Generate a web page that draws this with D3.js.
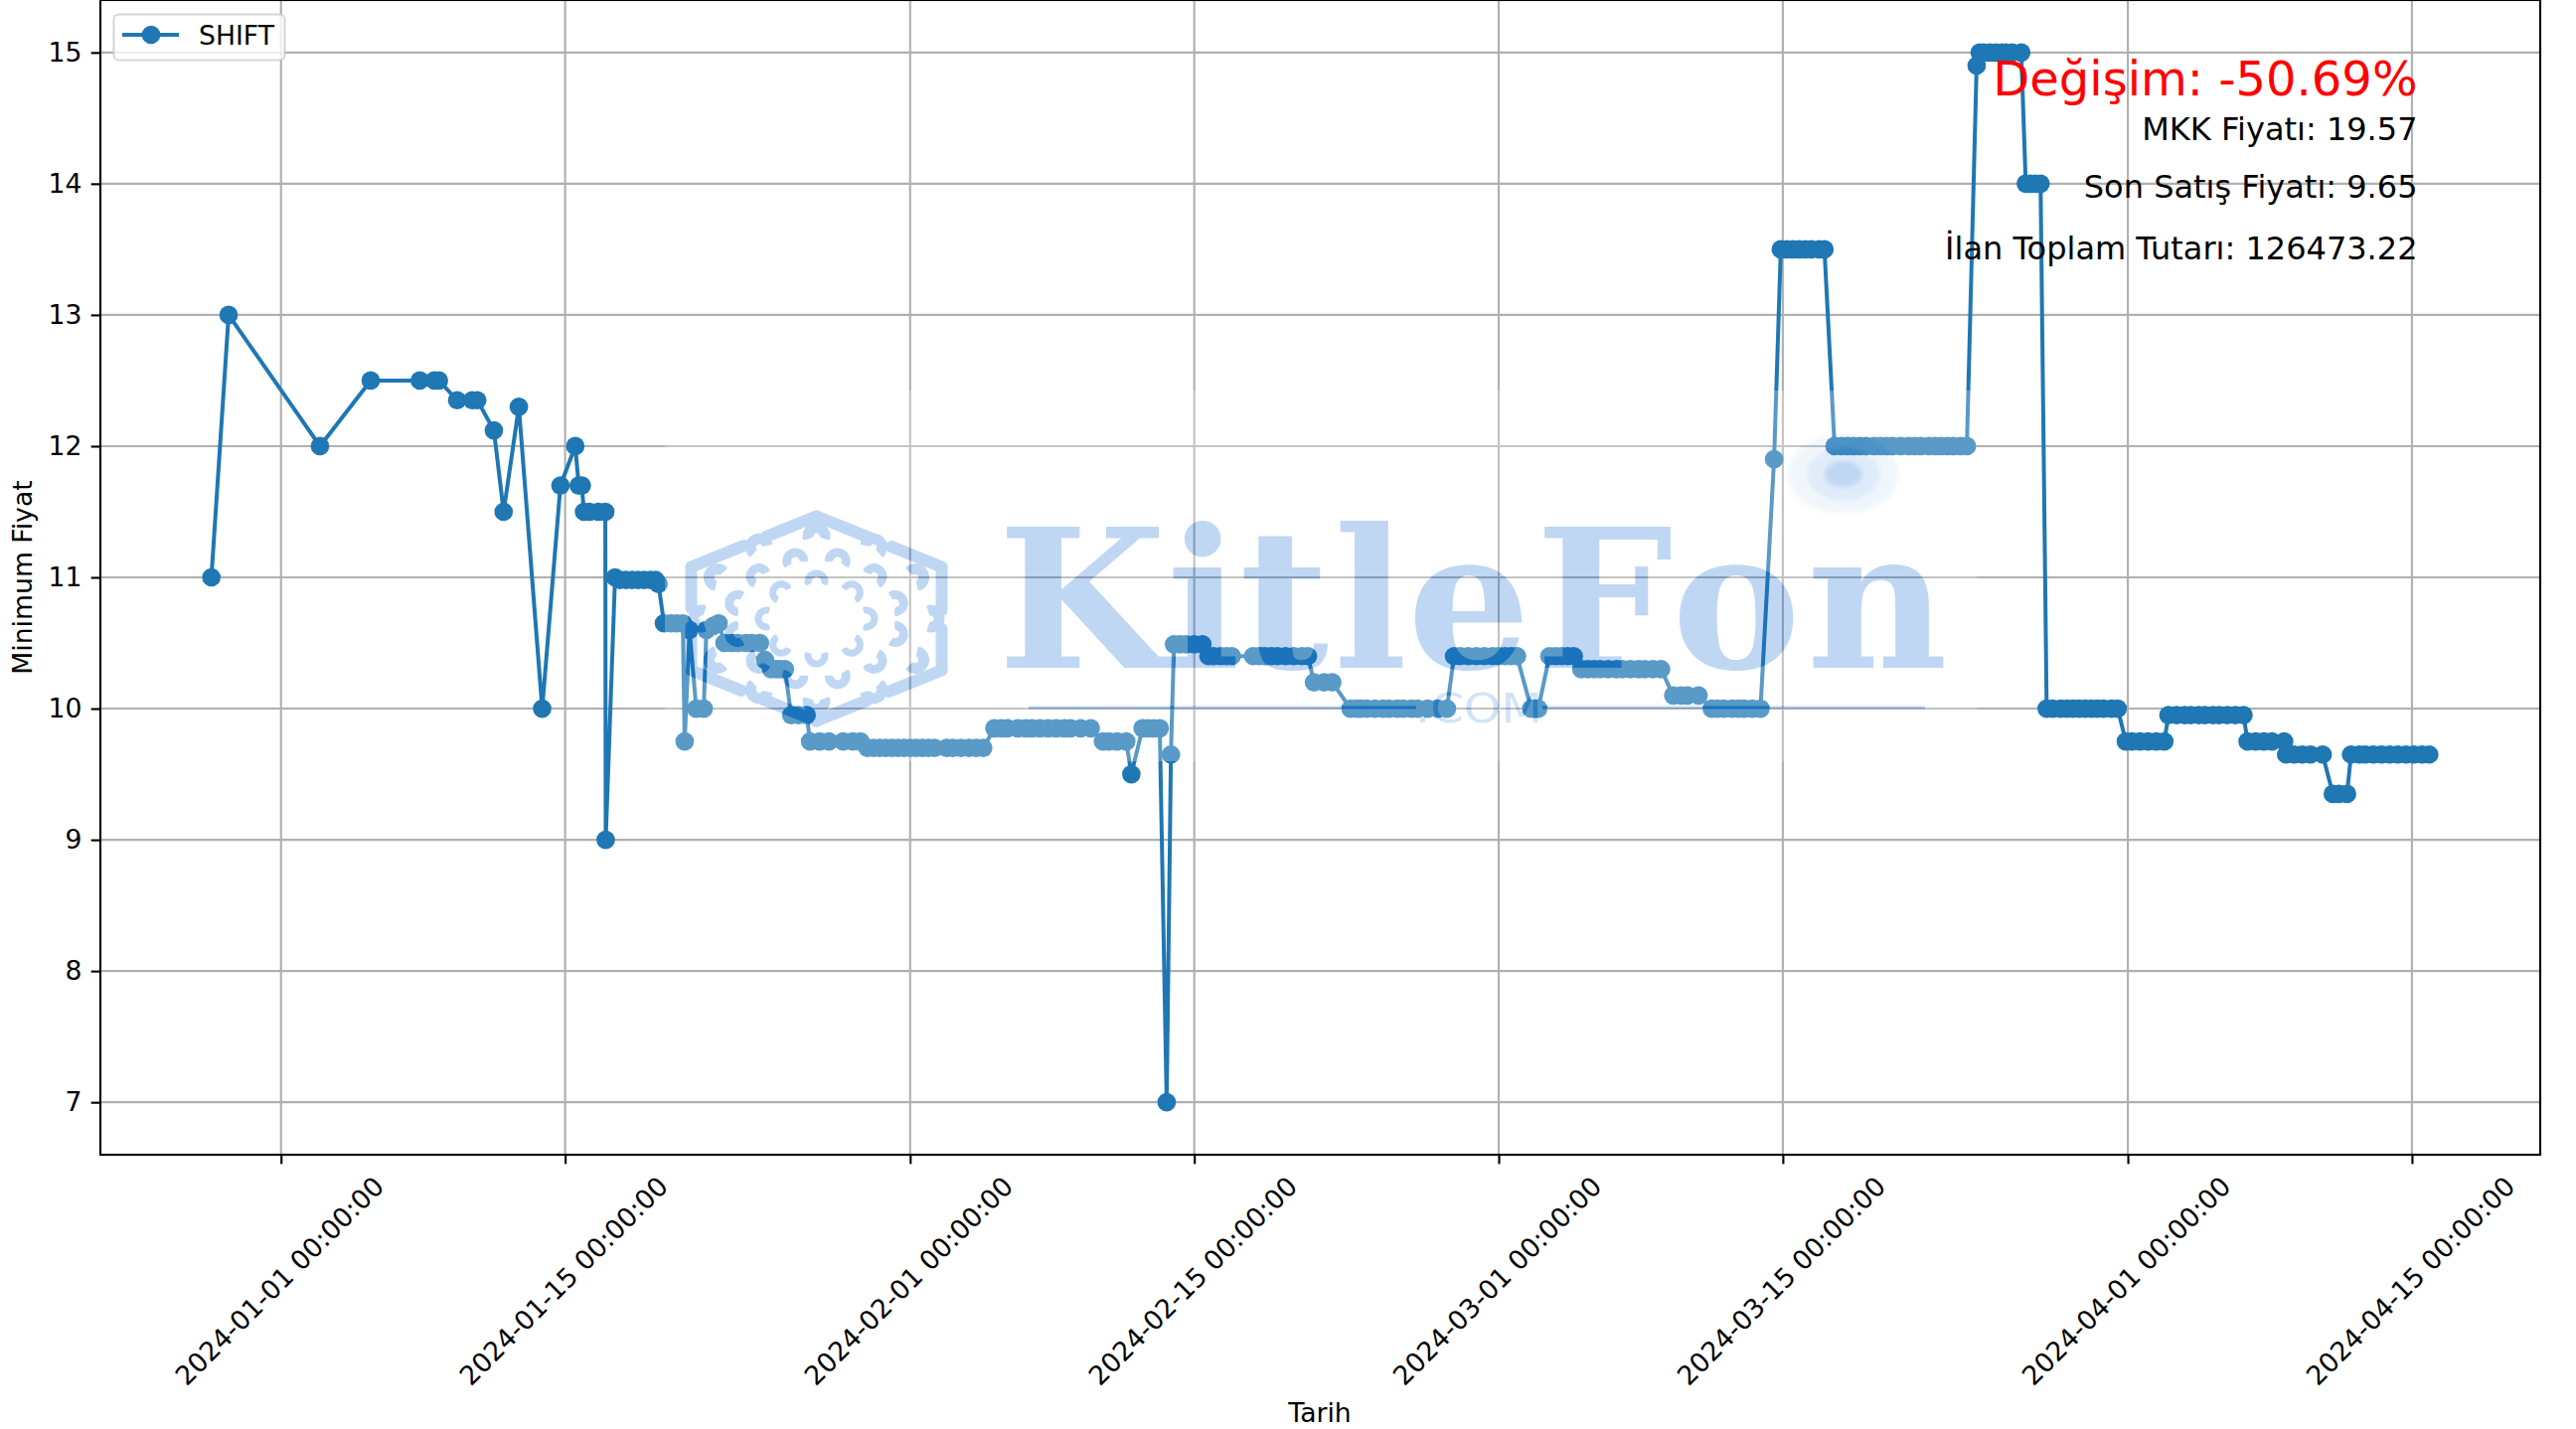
<!DOCTYPE html>
<html lang="tr">
<head>
    <meta charset="UTF-8">
    <title>SHIFT Minimum Fiyat</title>
    <script src="https://d3js.org/d3.v7.min.js"></script>
    <style>
        body { margin: 0; background: #fff; }
        svg { display: block; }
        text { font-family: "DejaVu Sans", sans-serif; fill: #000; }
    </style>
</head>
<body>
    <svg id="chart" width="2592" height="1438"></svg>
    <script>
        // Okunan degerler: 2024-01-01'den itibaren gun farki ve minimum fiyat
        const days = [
            -3.43, -2.58, 1.92,
            4.42, 6.84, 7.56, 7.78,
            8.68, 9.42, 9.67,
            10.49, 10.97, 11.72, 12.87, 13.77, 14.5,
            14.67, 14.82,
            14.93, 15.2, 15.64, 15.98,
            16.0, 16.46,
            16.7, 17.0, 17.3, 17.6, 17.9, 18.2, 18.45,
            18.6,
            18.87, 19.2, 19.5, 19.8,
            19.89, 20.13, 20.46, 20.83, 20.96, 21.3, 21.56,
            21.85, 22.2, 22.5, 22.9, 23.2, 23.6,
            23.85,
            24.15, 24.4, 24.6, 24.83,
            25.14, 25.5, 25.9,
            26.07, 26.54, 27.0, 27.7, 28.17, 28.55,
            28.9, 29.2, 29.5, 29.8, 30.1, 30.4, 30.7, 31.0, 31.3, 31.6, 31.9, 32.2, 32.8, 33.1, 33.5, 33.9, 34.25, 34.6,
            35.15, 35.5, 35.8, 36.3, 36.7, 37.0, 37.4, 37.8, 38.2, 38.6, 38.9, 39.4, 39.9,
            40.5, 40.8, 41.2, 41.65,
            41.9,
            42.45, 42.7, 43, 43.3,
            43.64, 43.85,
            44, 44.3, 44.6, 45, 45.4,
            45.7, 45.95, 46.3, 46.6, 46.85, 47.9, 48.2, 48.5, 48.8, 49.1, 49.5, 49.9, 50.3, 50.6,
            50.9, 51.4, 51.8,
            52.7, 53, 53.2, 53.5, 53.9, 54.3, 54.6, 55, 55.3, 55.7, 56, 56.5, 57, 57.45,
            57.8, 58.1, 58.5, 58.9, 59.3, 59.7, 60, 60.3, 60.6, 60.9,
            61.6, 61.8, 61.95,
            62.5, 62.8, 63.1, 63.4, 63.7,
            64.07, 64.4, 64.7, 65, 65.4, 65.8, 66.1, 66.5, 66.9, 67.2, 67.6, 68,
            68.6, 69, 69.3, 69.85,
            70.5, 70.8, 71.1, 71.5, 71.8, 72.1, 72.5, 72.9,
            73.57,
            73.9, 74.2, 74.5, 74.8, 75.1, 75.4, 75.8, 76.05,
            76.55, 76.9, 77.2, 77.5, 77.8, 78.1, 78.5, 78.8, 79.1, 79.4, 79.8, 80.2, 80.5, 80.8, 81.2, 81.5, 81.8, 82.1, 82.4, 82.75, 83.07,
            83.55,
            83.7, 83.9, 84.2, 84.5, 84.8, 85, 85.3, 85.75,
            85.97, 86.2, 86.45, 86.7,
            87, 87.3, 87.7, 88, 88.3, 88.6, 88.9, 89.2, 89.5, 89.8, 90.2, 90.5,
            90.9, 91.2, 91.6, 92, 92.4, 92.8,
            93, 93.4, 93.8, 94.1, 94.5, 94.8, 95.2, 95.5, 95.9, 96.3, 96.7,
            96.9, 97.3, 97.7, 98.1, 98.7,
            98.8, 99.2, 99.6, 100, 100.6,
            101.1, 101.4, 101.8,
            102, 102.4, 102.7, 103.1, 103.5, 103.9, 104.3, 104.7, 105.1, 105.5, 105.85
        ];
        const prices = [
            11, 13, 12,
            12.5, 12.5, 12.5, 12.5,
            12.35, 12.35, 12.35,
            12.12, 11.5, 12.3, 10, 11.7, 12,
            11.7, 11.7,
            11.5, 11.5, 11.5, 11.5,
            9, 11,
            10.98, 10.98, 10.98, 10.98, 10.98, 10.98, 10.98,
            10.95,
            10.65, 10.65, 10.65, 10.65,
            9.75, 10.6, 10, 10, 10.6, 10.63, 10.65,
            10.5, 10.5, 10.5, 10.5, 10.5, 10.5,
            10.37,
            10.3, 10.3, 10.3, 10.3,
            9.95, 9.95, 9.95,
            9.75, 9.75, 9.75, 9.75, 9.75, 9.75,
            9.7, 9.7, 9.7, 9.7, 9.7, 9.7, 9.7, 9.7, 9.7, 9.7, 9.7, 9.7, 9.7, 9.7, 9.7, 9.7, 9.7, 9.7,
            9.85, 9.85, 9.85, 9.85, 9.85, 9.85, 9.85, 9.85, 9.85, 9.85, 9.85, 9.85, 9.85,
            9.75, 9.75, 9.75, 9.75,
            9.5,
            9.85, 9.85, 9.85, 9.85,
            7, 9.65,
            10.49, 10.49, 10.49, 10.49, 10.49,
            10.4, 10.4, 10.4, 10.4, 10.4, 10.4, 10.4, 10.4, 10.4, 10.4, 10.4, 10.4, 10.4, 10.4,
            10.2, 10.2, 10.2,
            10, 10, 10, 10, 10, 10, 10, 10, 10, 10, 10, 10, 10, 10,
            10.4, 10.4, 10.4, 10.4, 10.4, 10.4, 10.4, 10.4, 10.4, 10.4,
            10, 10, 10,
            10.4, 10.4, 10.4, 10.4, 10.4,
            10.3, 10.3, 10.3, 10.3, 10.3, 10.3, 10.3, 10.3, 10.3, 10.3, 10.3, 10.3,
            10.1, 10.1, 10.1, 10.1,
            10, 10, 10, 10, 10, 10, 10, 10,
            11.9,
            13.5, 13.5, 13.5, 13.5, 13.5, 13.5, 13.5, 13.5,
            12, 12, 12, 12, 12, 12, 12, 12, 12, 12, 12, 12, 12, 12, 12, 12, 12, 12, 12, 12, 12,
            14.9,
            15, 15, 15, 15, 15, 15, 15, 15,
            14, 14, 14, 14,
            10, 10, 10, 10, 10, 10, 10, 10, 10, 10, 10, 10,
            9.75, 9.75, 9.75, 9.75, 9.75, 9.75,
            9.95, 9.95, 9.95, 9.95, 9.95, 9.95, 9.95, 9.95, 9.95, 9.95, 9.95,
            9.75, 9.75, 9.75, 9.75, 9.75,
            9.65, 9.65, 9.65, 9.65, 9.65,
            9.35, 9.35, 9.35,
            9.65, 9.65, 9.65, 9.65, 9.65, 9.65, 9.65, 9.65, 9.65, 9.65, 9.65
        ];
        const xTicks = ["2024-01-01", "2024-01-15", "2024-02-01", "2024-02-15", "2024-03-01", "2024-03-15", "2024-04-01", "2024-04-15"];
        const yTicks = [7, 8, 9, 10, 11, 12, 13, 14, 15];
        const infoLines = ["MKK Fiyatı: 19.57", "Son Satış Fiyatı: 9.65", "İlan Toplam Tutarı: 126473.22"];
        const changeLabel = "Değişim: -50.69%";
        const seriesName = "SHIFT";

        const parseDate = d3.utcParse("%Y-%m-%d");
        const start = parseDate("2024-01-01");
        const toDate = d => new Date(+start + d * 864e5);
        const points = days.map((d, i) => ({ date: toDate(d), price: prices[i] }));

        const blue = "#1f77b4";
        const grid = "#b0b0b0";
        const fontSize = "26.67px";
        const margin = { left: 101, right: 2556, top: 0, bottom: 1162 };

        const svg = d3.select("#chart");

        // Olcekler
        const x = d3.scaleUtc().domain([toDate(-8.9), toDate(111.32)]).range([margin.left, margin.right]);
        const y = d3.scaleLinear().domain([6.6, 15.4]).range([margin.bottom, margin.top]);

        // Izgara
        const gridG = svg.append("g").attr("stroke", grid).attr("stroke-width", 2.13);
        gridG.selectAll("line.v").data(xTicks).enter().append("line")
            .attr("class", "v")
            .attr("x1", d => x(parseDate(d))).attr("x2", d => x(parseDate(d)))
            .attr("y1", margin.top).attr("y2", margin.bottom);
        gridG.selectAll("line.h").data(yTicks).enter().append("line")
            .attr("class", "h")
            .attr("x1", margin.left).attr("x2", margin.right)
            .attr("y1", d => y(d)).attr("y2", d => y(d));

        // Cizgi ve noktalar
        const line = d3.line().x(d => x(d.date)).y(d => y(d.price));
        svg.append("path").datum(points)
            .attr("d", line)
            .attr("fill", "none")
            .attr("stroke", blue)
            .attr("stroke-width", 4)
            .attr("stroke-linejoin", "round");
        svg.append("g").selectAll("circle").data(points).enter().append("circle")
            .attr("cx", d => x(d.date))
            .attr("cy", d => y(d.price))
            .attr("r", 9.33)
            .attr("fill", blue);

        // Filigran: grafik uzerine yari saydam resim gibi
        const defs = svg.append("defs");
        defs.append("filter").attr("id", "soft").append("feGaussianBlur").attr("stdDeviation", 2);
        const wm = svg.append("g").attr("opacity", 0.26);
        const wmBlue = "#0d69d4";
        wm.append("rect").attr("x", 669).attr("y", 393).attr("width", 1320).attr("height", 373).attr("fill", "#fff");

        const logo = wm.append("g").attr("transform", "translate(821.5,622.5)").attr("fill", wmBlue);
        const hex = [[0, -103], [126, -52], [126, 52], [0, 103], [-126, 52], [-126, -52]];
        hex.forEach((p, i) => {
            const q = hex[(i + 1) % 6];
            [[0, 0.42], [0.6, 1]].forEach(([a, b]) => {
                logo.append("line")
                    .attr("x1", p[0] + (q[0] - p[0]) * a).attr("y1", p[1] + (q[1] - p[1]) * a)
                    .attr("x2", p[0] + (q[0] - p[0]) * b).attr("y2", p[1] + (q[1] - p[1]) * b)
                    .attr("stroke", wmBlue).attr("stroke-width", 12).attr("stroke-linecap", "round");
            });
        });
        const crescent = d3.arc().startAngle(-1.9).endAngle(1.9).cornerRadius(2);
        [[50, 37, 8, 0, 5, 12], [82, 60, 12, 15, 4, 13], [115, 83, 12, 0, 3, 14]].forEach(([rx, ry, n, off, r0, r1]) => {
            d3.range(n).forEach(i => {
                const deg = off + i * 360 / n;
                const a = deg * Math.PI / 180;
                logo.append("path")
                    .attr("d", crescent({ innerRadius: r0, outerRadius: r1 }))
                    .attr("transform", `translate(${rx * Math.sin(a)},${-ry * Math.cos(a)}) rotate(${deg})`);
            });
        });

        // Harfler tek tek yerlestirildi
        wm.append("text")
            .attr("x", "1004 1174 1247 1342 1416 1545 1682 1818").attr("y", 672)
            .style("font-family", "'DejaVu Serif', serif").style("font-weight", "bold").style("font-size", "195px")
            .style("fill", wmBlue)
            .text("KitleFon");
        wm.append("text")
            .attr("x", 1424).attr("y", 727)
            .attr("textLength", 128).attr("lengthAdjust", "spacingAndGlyphs")
            .style("font-size", "40px").style("fill", wmBlue).attr("opacity", 0.7)
            .text(".COM");
        [[1035, 1425], [1552, 1937]].forEach(([a, b]) => {
            wm.append("rect").attr("x", a).attr("y", 710.5).attr("width", b - a).attr("height", 3).attr("fill", wmBlue);
        });
        [[56, 40, 0.2], [37, 27, 0.35], [19, 13, 1]].forEach(([rx, ry, o]) => {
            wm.append("ellipse").attr("cx", 1855).attr("cy", 477).attr("rx", rx).attr("ry", ry)
                .attr("fill", wmBlue).attr("opacity", o).attr("filter", "url(#soft)");
        });

        // Cerceve
        svg.append("rect")
            .attr("x", margin.left).attr("y", margin.top)
            .attr("width", margin.right - margin.left).attr("height", margin.bottom - margin.top)
            .attr("fill", "none").attr("stroke", "#000").attr("stroke-width", 2.13);

        // Eksenler
        const xAxis = svg.append("g").attr("transform", `translate(0,${margin.bottom})`)
            .call(d3.axisBottom(x)
                .tickValues(xTicks.map(parseDate))
                .tickFormat(d3.utcFormat("%Y-%m-%d %H:%M:%S"))
                .tickSize(9.33).tickSizeOuter(0));
        xAxis.select(".domain").remove();
        xAxis.selectAll("line").attr("stroke-width", 2.13);
        xAxis.selectAll("text")
            .attr("y", null).attr("dy", "0.35em")
            .attr("text-anchor", "middle")
            .attr("transform", "translate(-2,127) rotate(-45)")
            .style("font-size", fontSize);

        const yAxis = svg.append("g").attr("transform", `translate(${margin.left},0)`)
            .call(d3.axisLeft(y).tickValues(yTicks).tickSize(9.33).tickPadding(9.33).tickSizeOuter(0));
        yAxis.select(".domain").remove();
        yAxis.selectAll("line").attr("stroke-width", 2.13);
        yAxis.selectAll("text").style("font-size", fontSize);

        svg.append("text").attr("x", 1328).attr("y", 1431).attr("text-anchor", "middle")
            .style("font-size", fontSize).text("Tarih");
        svg.append("text").attr("transform", "translate(32,581) rotate(-90)").attr("text-anchor", "middle")
            .style("font-size", fontSize).text("Minimum Fiyat");

        // Gosterge
        svg.append("rect").attr("x", 114.5).attr("y", 14.5).attr("width", 172).attr("height", 46).attr("rx", 5)
            .attr("fill", "#fff").attr("fill-opacity", 0.8)
            .attr("stroke", "#ccc").attr("stroke-opacity", 0.8).attr("stroke-width", 2.13);
        svg.append("line").attr("x1", 123).attr("x2", 180).attr("y1", 35).attr("y2", 35)
            .attr("stroke", blue).attr("stroke-width", 4);
        svg.append("circle").attr("cx", 152).attr("cy", 35).attr("r", 9.33).attr("fill", blue);
        svg.append("text").attr("x", 200).attr("y", 45).style("font-size", fontSize).text(seriesName);

        // Ozet metinleri
        svg.append("text").attr("x", 2432.5).attr("y", 96).attr("text-anchor", "end")
            .style("font-size", "48px").style("fill", "#f00").text(changeLabel);
        const infoY = [141, 199, 261];
        svg.append("g").selectAll("text").data(infoLines).enter().append("text")
            .attr("x", 2432.5).attr("y", (d, i) => infoY[i]).attr("text-anchor", "end")
            .style("font-size", "32px")
            .text(d => d);
    </script>
</body>
</html>
